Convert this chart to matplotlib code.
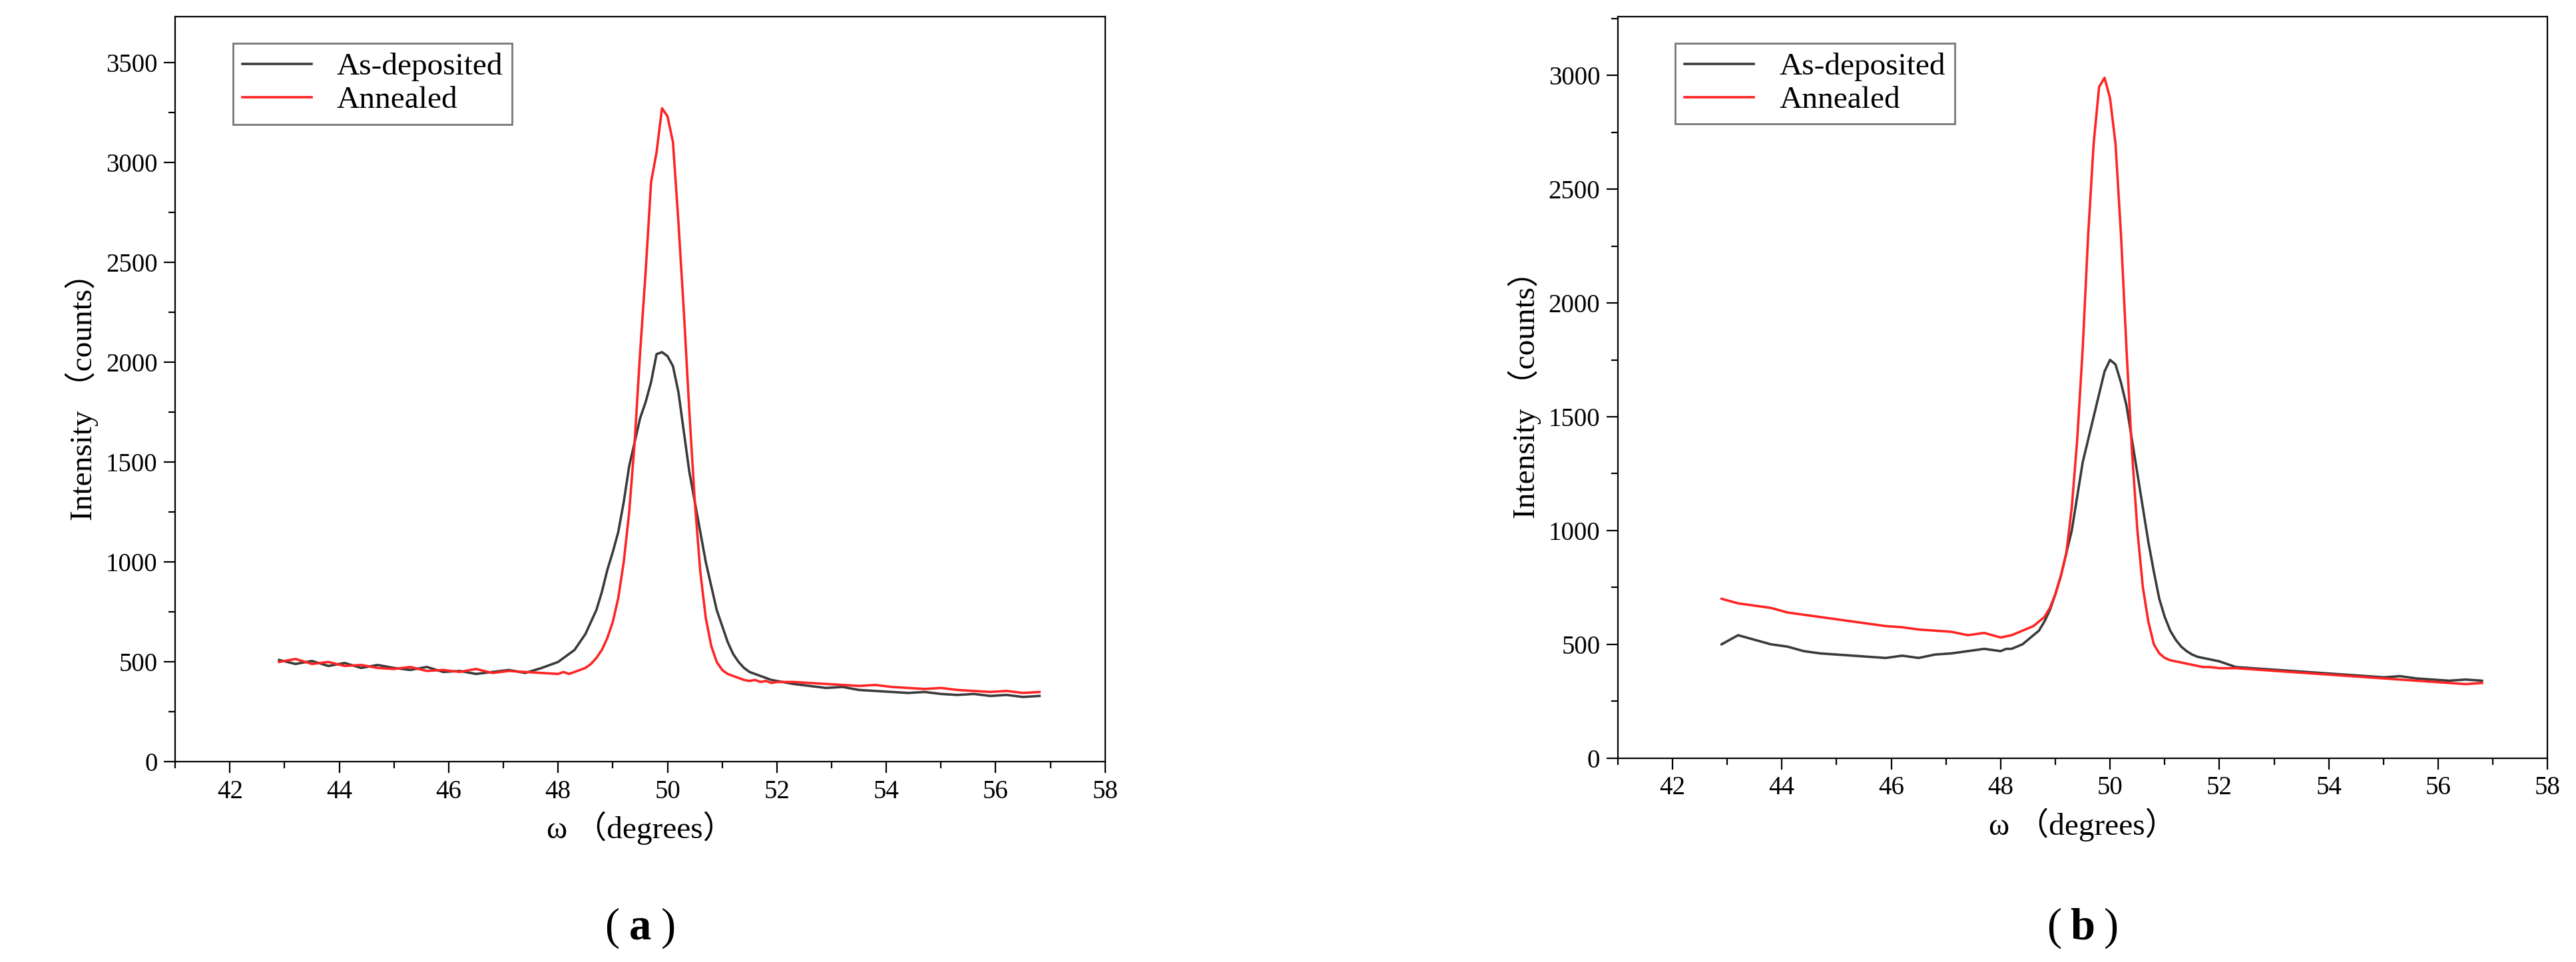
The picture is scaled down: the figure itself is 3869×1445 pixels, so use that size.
import numpy as np
import matplotlib
matplotlib.use("Agg")
import matplotlib.pyplot as plt
from matplotlib.ticker import MultipleLocator

plt.rcParams["font.family"] = ["Liberation Serif", "Noto Sans CJK SC", "DejaVu Sans"]

# ── Data ──────────────────────────────────────────────────────────────────────
# sample positions: coarse on the tails, fine across the peak
omega = np.round(np.r_[np.arange(42.9, 47.71, 0.3),
                       np.arange(48.0, 52.01, 0.1),
                       np.arange(52.3, 56.81, 0.3)], 2)

a_dep = [510, 490, 505, 480, 495, 470, 485, 470, 460, 475, 450, 455, 440, 450, 460, 445, 470,
         500, 520, 540, 560, 600, 640, 700, 760, 850, 960, 1050, 1150, 1300, 1480, 1600, 1720,
         1800, 1900, 2040, 2050, 2030, 1980, 1850, 1650, 1450, 1300, 1150, 1000, 880, 760, 680,
         600, 540, 500, 470, 450, 440, 430, 420, 410, 405,
         390, 380, 370, 375, 360, 355, 350, 345, 350, 340, 335, 340, 330, 335, 325, 330]
a_ann = [500, 515, 490, 500, 480, 485, 470, 465, 475, 455, 460, 450, 465, 445, 455, 450, 445,
         440, 450, 440, 450, 460, 470, 490, 520, 560, 620, 700, 820, 1000, 1250, 1600, 2050,
         2450, 2900, 3050, 3270, 3230, 3100, 2700, 2250, 1750, 1300, 950, 720, 580, 500, 460,
         440, 430, 420, 410, 405, 410, 400, 405, 395, 400,
         400, 395, 390, 385, 380, 385, 375, 370, 365, 370, 360, 355, 350, 355, 345, 350]

b_dep = [500, 540, 520, 500, 490, 470, 460, 455, 450, 445, 440, 450, 440, 455, 460, 470, 480,
         470, 480, 480, 490, 500, 520, 540, 560, 600, 650, 720, 800, 900, 1000, 1150, 1300,
         1400, 1500, 1600, 1700, 1750, 1730, 1650, 1550, 1400, 1250, 1100, 950, 820, 700, 620,
         560, 520, 490, 470, 455, 445, 440, 435, 430, 425,
         400, 395, 390, 385, 380, 375, 370, 365, 360, 355, 360, 350, 345, 340, 345, 340]
b_ann = [700, 680, 670, 660, 640, 630, 620, 610, 600, 590, 580, 575, 565, 560, 555, 540, 550,
         530, 535, 540, 550, 560, 570, 580, 600, 620, 660, 720, 800, 900, 1100, 1400, 1800,
         2300, 2700, 2950, 2990, 2900, 2700, 2300, 1800, 1350, 1000, 750, 600, 500, 460, 440,
         430, 425, 420, 415, 410, 405, 400, 400, 398, 395,
         395, 390, 385, 380, 375, 370, 365, 360, 355, 350, 345, 340, 335, 330, 325, 330]

panels = [
    ("a", a_dep, a_ann, 3730, [0.068, 0.208, 0.361, 0.775]),
    ("b", b_dep, b_ann, 3260, [0.628, 0.212, 0.361, 0.771]),
]

fig = plt.figure(figsize=(19.345, 7.225), dpi=200)

for tag, dep, ann, ytop, rect in panels:
    ax = fig.add_axes(rect)
    ax.plot(omega, dep, color="#3a3a3a", lw=1.3, label="As-deposited")
    ax.plot(omega, ann, color="#ff2424", lw=1.3, label="Annealed")
    ax.set_xlim(41, 58)
    ax.set_ylim(0, ytop)
    ax.xaxis.set_major_locator(MultipleLocator(2))
    ax.xaxis.set_minor_locator(MultipleLocator(1))
    ax.yaxis.set_major_locator(MultipleLocator(500))
    ax.yaxis.set_minor_locator(MultipleLocator(250))
    ax.tick_params(which="both", direction="out", labelsize=14, width=0.8)
    ax.tick_params(which="major", length=6)
    ax.tick_params(which="minor", length=3.5)
    ax.set_xlabel("ω （degrees）", fontsize=17)
    ax.set_ylabel("Intensity （counts）", fontsize=17)
    ax.legend(loc="upper left", bbox_to_anchor=(0.045, 0.985), fontsize=17,
              frameon=True, fancybox=False, edgecolor="#555555",
              handlelength=2.2, borderpad=0.3, labelspacing=0.15)
    x = rect[0] + rect[2] / 2
    fig.text(x, 0.035, tag, ha="center", va="center", fontsize=24, fontweight="bold")
    fig.text(x - 0.011, 0.035, "(", ha="center", va="center", fontsize=24)
    fig.text(x + 0.011, 0.035, ")", ha="center", va="center", fontsize=24)

fig.savefig("out.png", dpi=200)
